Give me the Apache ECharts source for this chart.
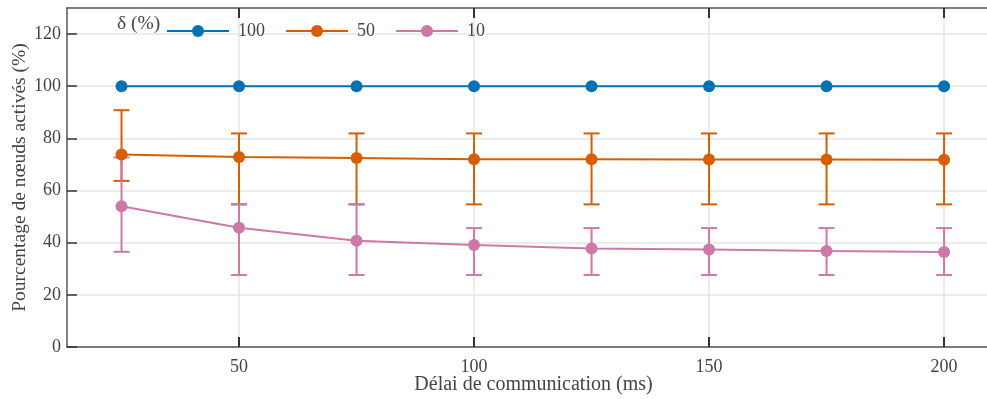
<!DOCTYPE html>
<html>
<head>
<meta charset="utf-8">
<script src="https://cdn.jsdelivr.net/npm/echarts@6/dist/echarts.min.js"></script>
<style>html,body{margin:0;padding:0;background:#fff}#c{width:987px;height:399px}</style>
</head>
<body>
<div id="c"></div>
<script>
const delays = [25, 50, 75, 100, 125, 150, 175, 200];
const xTicks = [50, 100, 150, 200];
const seriesNames = ['100', '50', '10'];
const mean100 = [100, 100, 100, 100, 100, 100, 100, 100];
const mean50 = [73.8, 72.9, 72.5, 72.0, 72.0, 71.9, 71.9, 71.8];
const low50 = [63.7, 54.7, 54.7, 54.7, 54.7, 54.7, 54.7, 54.7];
const high50 = [90.8, 81.9, 81.9, 81.9, 81.9, 81.9, 81.9, 81.9];
const mean10 = [54.0, 45.7, 40.7, 39.1, 37.8, 37.4, 36.8, 36.4];
const low10 = [36.5, 27.6, 27.6, 27.6, 27.6, 27.6, 27.6, 27.6];
const high10 = [72.7, 54.7, 54.7, 45.6, 45.6, 45.6, 45.6, 45.6];
const yTicks = [0, 20, 40, 60, 80, 100, 120];

const colors = ['#0072B2', '#D55E00', '#CC79A7'];
const font = 'Liberation Serif, Times New Roman, serif';
const axisCol = '#555555';
const gridCol = '#e6e6e6';

function pts(means) { return delays.map((d, i) => [d, means[i]]); }
function errData(lows, highs) { return delays.map((d, i) => [d, lows[i], highs[i]]); }

function errSeries(lows, highs, color) {
  return {
    type: 'custom',
    data: errData(lows, highs),
    z: 1,
    silent: true,
    encode: { x: 0, y: [1, 2] },
    renderItem: function (params, api) {
      const x = api.value(0);
      const lo = api.coord([x, api.value(1)]);
      const hi = api.coord([x, api.value(2)]);
      const hw = 8;
      const style = { stroke: color, lineWidth: 2, fill: null };
      return {
        type: 'group',
        children: [
          { type: 'line', shape: { x1: lo[0], y1: lo[1], x2: hi[0], y2: hi[1] }, style: style },
          { type: 'line', shape: { x1: lo[0] - hw, y1: lo[1], x2: lo[0] + hw, y2: lo[1] }, style: style },
          { type: 'line', shape: { x1: hi[0] - hw, y1: hi[1], x2: hi[0] + hw, y2: hi[1] }, style: style }
        ]
      };
    }
  };
}

function lineSeries(name, means, color) {
  return {
    name: name,
    type: 'line',
    data: pts(means),
    z: 3,
    symbol: 'circle',
    symbolSize: 12,
    showAllSymbol: true,
    lineStyle: { color: color, width: 2 },
    itemStyle: { color: color },
    emphasis: { disabled: true },
    animation: false
  };
}

const chart = echarts.init(document.getElementById('c'), null, { renderer: 'canvas' });
chart.setOption({
  animation: false,
  backgroundColor: '#fff',
  textStyle: { fontFamily: font },
  title: {
    text: 'δ (%)',
    left: 112, top: 9,
    textStyle: { fontFamily: font, fontSize: 19.5, fontWeight: 'normal', color: '#444' }
  },
  legend: {
    data: seriesNames,
    left: 161, top: 17,
    itemWidth: 62, itemHeight: 15,
    itemGap: 20,
    textStyle: { fontFamily: font, fontSize: 18, color: '#444', padding: [0, 0, 0, 4] },
    selectedMode: false
  },
  grid: { left: 67, right: -13, top: 8, bottom: 52, containLabel: false, outerBoundsMode: 'none' },
  xAxis: [{
    type: 'value',
    min: 13.4, max: 211.9,
    splitNumber: 4,
    name: 'Délai de communication (ms)',
    nameLocation: 'middle',
    nameMoveOverlap: false,
    nameGap: 28,
    nameTextStyle: { fontFamily: font, fontSize: 20, color: '#444' },
    axisLine: { show: true, onZero: false, lineStyle: { color: axisCol, width: 1.5 } },
    axisTick: { show: true, inside: true, length: 10, customValues: xTicks, lineStyle: { color: '#333', width: 2 } },
    axisLabel: { fontFamily: font, fontSize: 18, color: '#444', margin: 11, showMinLabel: false, showMaxLabel: false },
    splitLine: { show: true, lineStyle: { color: gridCol, width: 1.5 } }
  }, {
    type: 'value',
    position: 'top',
    min: 13.4, max: 211.9,
    splitNumber: 4,
    axisLine: { show: true, onZero: false, lineStyle: { color: axisCol, width: 1.5 } },
    axisTick: { show: true, inside: true, length: 10, customValues: xTicks, lineStyle: { color: '#333', width: 2 } },
    axisLabel: { show: false },
    splitLine: { show: false }
  }],
  yAxis: {
    type: 'value',
    min: 0, max: 130,
    interval: 20,
    name: 'Pourcentage de nœuds activés (%)',
    nameLocation: 'middle',
    nameMoveOverlap: false,
    nameGap: 37,
    nameTextStyle: { fontFamily: font, fontSize: 19.5, color: '#444' },
    axisLine: { show: true, onZero: false, lineStyle: { color: axisCol, width: 1.5 } },
    axisTick: { show: true, inside: true, length: 10, customValues: yTicks, lineStyle: { color: '#333', width: 1.5 } },
    axisLabel: {
      fontFamily: font, fontSize: 18, color: '#444', margin: 6,
      formatter: function (v) { return yTicks.indexOf(v) >= 0 ? String(v) : ''; }
    },
    splitLine: { show: true, lineStyle: { color: gridCol, width: 1.5 } }
  },
  series: [
    errSeries(low50, high50, colors[1]),
    errSeries(low10, high10, colors[2]),
    lineSeries(seriesNames[0], mean100, colors[0]),
    lineSeries(seriesNames[1], mean50, colors[1]),
    lineSeries(seriesNames[2], mean10, colors[2])
  ]
});
</script>
</body>
</html>
